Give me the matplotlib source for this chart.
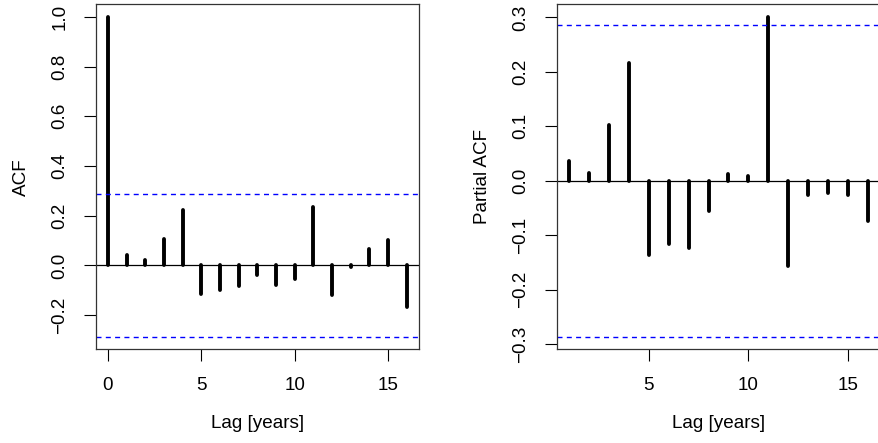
import numpy as np
import matplotlib
matplotlib.use("Agg")
import matplotlib.pyplot as plt

plt.rcParams['font.family'] = ['Liberation Sans', 'DejaVu Sans']
plt.rcParams['lines.scale_dashes'] = False

# values
acf_lags = np.arange(0, 17)
acf_vals = [1.0, 0.040, 0.021, 0.107, 0.223, -0.117, -0.100, -0.081, -0.039,
            -0.077, -0.055, 0.236, -0.121, -0.007, 0.065, 0.103, -0.167]
pacf_lags = np.arange(1, 17)
pacf_vals = [0.036, 0.015, 0.103, 0.216, -0.137, -0.116, -0.124, -0.056,
             0.012, 0.0085, 0.301, -0.157, -0.027, -0.023, -0.026, -0.074]
conf_limit = 0.286

acf_ticks = [-0.2, 0.0, 0.2, 0.4, 0.6, 0.8, 1.0]
pacf_ticks = [-0.3, -0.2, -0.1, 0.0, 0.1, 0.2, 0.3]


def r_range(lo, hi):
    # R extends the data range by 4% on each side
    pad = (hi - lo) * 0.04
    return lo - pad, hi + pad


def fmt(t):
    return ('\u2212%.1f' % -t) if t < 0 else '%.1f' % t


def draw_panel(ax, lags, vals, yticks, xticks, ylabel):
    ax.vlines(lags, 0, vals, colors='black', linewidth=2.8, capstyle='round')
    ax.axhline(0, color='black', linewidth=0.9)
    ax.axhline(conf_limit, color='#0000FF', linewidth=1.0, linestyle=(0, (3.6, 3.1)))
    ax.axhline(-conf_limit, color='#0000FF', linewidth=1.0, linestyle=(0, (3.6, 3.1)))
    ax.set_xlim(*r_range(min(lags), max(lags)))
    ax.set_ylim(*r_range(min(min(vals), -conf_limit), max(max(vals), conf_limit)))
    ax.set_xticks(xticks)
    ax.set_yticks(yticks)
    ax.set_yticklabels([fmt(t) for t in yticks], rotation=90, va='center')
    ax.set_xticklabels([str(t) for t in xticks])
    ax.tick_params(direction='out', length=8.5, width=0.8, labelsize=13.6, pad=11.5)
    ax.set_xlabel('Lag [years]', fontsize=13.6, labelpad=15)
    ax.set_ylabel(ylabel, fontsize=13.6, labelpad=15)
    for s in ax.spines.values():
        s.set_linewidth(0.9)
        s.set_color('#333333')


fig = plt.figure(figsize=(8.79, 4.43), dpi=100)
ax1 = fig.add_axes([96 / 879, (443 - 349.3) / 443, 322.7 / 879, 345.3 / 443])
ax2 = fig.add_axes([557 / 879, (443 - 349.3) / 443, 323 / 879, 345.3 / 443])

draw_panel(ax1, acf_lags, acf_vals, acf_ticks, [0, 5, 10, 15], 'ACF')
draw_panel(ax2, pacf_lags, pacf_vals, pacf_ticks, [5, 10, 15], 'Partial ACF')

fig.savefig('out.png', dpi=100)
